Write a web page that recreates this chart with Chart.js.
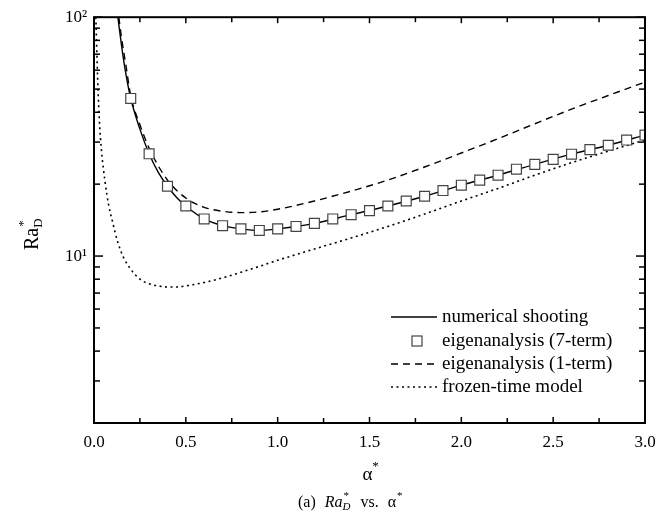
<!DOCTYPE html>
<html>
<head>
<meta charset="utf-8">
<script src="https://cdn.jsdelivr.net/npm/chart.js@4.4.1/dist/chart.umd.min.js"></script>
<style>
html,body{margin:0;padding:0;background:#fff;}
#wrap{width:670px;height:522px;}
</style>
</head>
<body>
<div id="wrap"><canvas id="c" width="670" height="522"></canvas></div>
<script>
// ---- data ----
const shootAlpha = [0.13, 0.15, 0.17, 0.2, 0.25, 0.3, 0.35, 0.4, 0.45, 0.5, 0.6, 0.7, 0.8, 0.9, 1.0, 1.1, 1.2, 1.4, 1.6, 1.8, 2.0, 2.2, 2.4, 2.6, 2.8, 3.0];
const shootRa    = [100, 76, 60, 45.7, 34, 26.8, 22.4, 19.6, 17.6, 16.2, 14.3, 13.4, 13.0, 12.8, 13.0, 13.3, 13.7, 14.9, 16.2, 17.8, 19.8, 21.8, 24.2, 26.7, 29.1, 32.1];

const eigen7Alpha = [0.2, 0.3, 0.4, 0.5, 0.6, 0.7, 0.8, 0.9, 1.0, 1.1, 1.2, 1.3, 1.4, 1.5, 1.6, 1.7, 1.8, 1.9, 2.0, 2.1, 2.2, 2.3, 2.4, 2.5, 2.6, 2.7, 2.8, 2.9, 3.0];
const eigen7Ra    = [45.7, 26.8, 19.6, 16.2, 14.3, 13.4, 13.0, 12.8, 13.0, 13.3, 13.7, 14.3, 14.9, 15.5, 16.2, 17.0, 17.8, 18.8, 19.8, 20.8, 21.8, 23.1, 24.2, 25.4, 26.7, 27.9, 29.1, 30.6, 32.1];

const eigen1Alpha = [0.135, 0.15, 0.175, 0.2, 0.25, 0.3, 0.4, 0.5, 0.6, 0.7, 0.8, 0.9, 1.0, 1.1, 1.2, 1.4, 1.6, 1.8, 2.0, 2.2, 2.4, 2.6, 2.8, 3.0];
const eigen1Ra    = [100, 82, 62, 46.8, 35.5, 28.3, 20.8, 17.5, 16.0, 15.4, 15.2, 15.3, 15.7, 16.3, 17.0, 18.7, 20.8, 23.6, 27.0, 31.0, 35.8, 41.2, 47.0, 53.5];

const frozenAlpha = [0.01, 0.02, 0.03, 0.04, 0.06, 0.08, 0.1, 0.13, 0.16, 0.2, 0.25, 0.3, 0.35, 0.4, 0.45, 0.5, 0.6, 0.7, 0.8, 0.9, 1.0, 1.2, 1.4, 1.6, 1.8, 2.0, 2.2, 2.4, 2.6, 2.8, 3.0];
const frozenRa    = [100, 55, 36, 28, 20.5, 16.3, 14.0, 11.4, 9.9, 8.8, 8.0, 7.65, 7.5, 7.42, 7.42, 7.5, 7.75, 8.1, 8.55, 9.05, 9.6, 10.7, 11.9, 13.3, 15.0, 17.0, 19.2, 21.8, 24.6, 27.5, 30.6];

const seriesNames = ['numerical shooting', 'eigenanalysis (7-term)', 'eigenanalysis (1-term)', 'frozen-time model'];
const xMajorTicks = [0, 0.5, 1.0, 1.5, 2.0, 2.5, 3.0];
const xMinorTicks = [0.25, 0.75, 1.25, 1.75, 2.25, 2.75];
const yMajorTicks = [10, 100];
const yMajorLabels = ['10\u00B9', '10\u00B2'];
const yMinorTicks = [2, 3, 4, 5, 6, 7, 8, 9, 20, 30, 40, 50, 60, 70, 80, 90];

const pts = (xs, ys) => xs.map((x, i) => ({x: x, y: ys[i]}));
const SERIF = '"Liberation Serif", "Times New Roman", serif';

const decorPlugin = {
  id: 'decor',
  afterDraw(chart) {
    const ctx = chart.ctx;
    const a = chart.chartArea;
    const xs = chart.scales.x, ys = chart.scales.y;
    ctx.save();
    ctx.strokeStyle = '#000';
    // inward ticks
    ctx.lineWidth = 1.5;
    const tick = (x1, y1, x2, y2) => { ctx.beginPath(); ctx.moveTo(x1, y1); ctx.lineTo(x2, y2); ctx.stroke(); };
    xMajorTicks.concat(xMinorTicks).forEach(v => {
      const L = xMajorTicks.includes(v) ? 6 : 5;
      const px = xs.getPixelForValue(v);
      tick(px, a.bottom, px, a.bottom - L);
      tick(px, a.top, px, a.top + L);
    });
    yMajorTicks.concat(yMinorTicks).forEach(v => {
      const L = yMajorTicks.includes(v) ? 9 : 6;
      const py = ys.getPixelForValue(v);
      tick(a.left, py, a.left + L, py);
      tick(a.right, py, a.right - L, py);
    });
    // frame
    ctx.lineWidth = 2;
    ctx.strokeRect(a.left, a.top, a.right - a.left, a.bottom - a.top);

    // legend
    ctx.fillStyle = '#000';
    ctx.font = '19px ' + SERIF;
    ctx.textBaseline = 'middle';
    ctx.textAlign = 'left';
    const rows = [317, 341, 364, 387];
    const lx1 = 391, lx2 = 437, tx = 442;
    const dsets = chart.data.datasets;
    rows.forEach((ry, i) => {
      const ds = dsets[i];
      if (ds.showLine) {
        ctx.save();
        ctx.lineWidth = ds.borderWidth;
        ctx.setLineDash(ds.borderDash || []);
        ctx.strokeStyle = ds.borderColor;
        ctx.beginPath(); ctx.moveTo(lx1, ry); ctx.lineTo(lx2, ry); ctx.stroke();
        ctx.restore();
      } else {
        ctx.save();
        ctx.lineWidth = 1.2;
        ctx.strokeStyle = '#444';
        ctx.fillStyle = '#fff';
        ctx.fillRect(412, ry - 5, 10, 10);
        ctx.strokeRect(412, ry - 5, 10, 10);
        ctx.restore();
      }
      ctx.fillText(seriesNames[i], tx, ry);
    });

    // x title: alpha*
    const cx = (a.left + a.right) / 2;
    ctx.textAlign = 'center';
    ctx.textBaseline = 'alphabetic';
    ctx.font = '19px ' + SERIF;
    ctx.fillText('\u03B1', cx - 2, 480);
    ctx.font = '13px ' + SERIF;
    ctx.fillText('*', cx + 6, 470);

    // caption
    ctx.textAlign = 'left';
    let x = 298;
    const base = 507;
    ctx.font = '16px ' + SERIF;
    ctx.fillText('(a)', x, base); x += ctx.measureText('(a)').width + 9;
    ctx.font = 'italic 16px ' + SERIF;
    ctx.fillText('Ra', x, base); x += ctx.measureText('Ra').width;
    ctx.font = '11px ' + SERIF;
    ctx.fillText('*', x + 1, base - 8);
    ctx.font = 'italic 11px ' + SERIF;
    ctx.fillText('D', x, base + 3); x += ctx.measureText('D').width + 10;
    ctx.font = '16px ' + SERIF;
    ctx.fillText('vs.', x, base); x += ctx.measureText('vs.').width + 9;
    ctx.fillText('\u03B1', x, base); x += ctx.measureText('\u03B1').width;
    ctx.font = '11px ' + SERIF;
    ctx.fillText('*', x + 1, base - 8);

    // y title: Ra*_D rotated
    ctx.save();
    ctx.translate(38, 250);
    ctx.rotate(-Math.PI / 2);
    ctx.textAlign = 'left';
    ctx.textBaseline = 'alphabetic';
    ctx.font = '20px ' + SERIF;
    ctx.fillText('Ra', 0, 0);
    const w = ctx.measureText('Ra').width;
    ctx.font = '13px ' + SERIF;
    ctx.fillText('D', w, 4);
    ctx.fillText('*', w + 1, -11);
    ctx.restore();

    ctx.restore();
  }
};

new Chart(document.getElementById('c'), {
  type: 'scatter',
  data: {
    datasets: [
      { label: seriesNames[0], data: pts(shootAlpha, shootRa), showLine: true, borderColor: '#000', borderWidth: 1.4,
        pointRadius: 0, tension: 0, cubicInterpolationMode: 'monotone', order: 2 },
      { label: seriesNames[1], data: pts(eigen7Alpha, eigen7Ra), showLine: false, pointStyle: 'rect', pointRadius: 7,
        pointBackgroundColor: '#fff', pointBorderColor: '#444', pointBorderWidth: 1.2, order: 0 },
      { label: seriesNames[2], data: pts(eigen1Alpha, eigen1Ra), showLine: true, borderColor: '#000', borderWidth: 1.4,
        borderDash: [7, 5], pointRadius: 0, cubicInterpolationMode: 'monotone', order: 3 },
      { label: seriesNames[3], data: pts(frozenAlpha, frozenRa), showLine: true, borderColor: '#000', borderWidth: 1.6,
        borderDash: [2, 3.5], pointRadius: 0, cubicInterpolationMode: 'monotone', order: 4 }
    ]
  },
  options: {
    responsive: false,
    animation: false,
    devicePixelRatio: 1,
    layout: { padding: { left: 0, top: 17, right: 25, bottom: 0 } },
    plugins: { legend: { display: false }, tooltip: { enabled: false } },
    scales: {
      x: {
        type: 'linear', min: 0, max: 3,
        grid: { display: false, drawTicks: false },
        border: { display: false },
        afterBuildTicks: s => { s.ticks = xMajorTicks.map(v => ({value: v})); },
        afterFit: s => { s.height = 99; },
        ticks: { color: '#000', font: { family: SERIF, size: 17 }, padding: 9,
                 callback: v => Number(v).toFixed(1), maxRotation: 0, autoSkip: false }
      },
      y: {
        type: 'logarithmic', min: 2, max: 100,
        grid: { display: false, drawTicks: false },
        border: { display: false },
        afterBuildTicks: s => { s.ticks = yMajorTicks.map(v => ({value: v})); },
        afterFit: s => { s.width = 94; },
        ticks: { color: '#000', font: { family: SERIF, size: 17 }, padding: 7, autoSkip: false,
                 callback: v => { const i = yMajorTicks.indexOf(Number(v)); return i >= 0 ? yMajorLabels[i] : ''; } }
      }
    }
  },
  plugins: [decorPlugin]
});
</script>
</body>
</html>
